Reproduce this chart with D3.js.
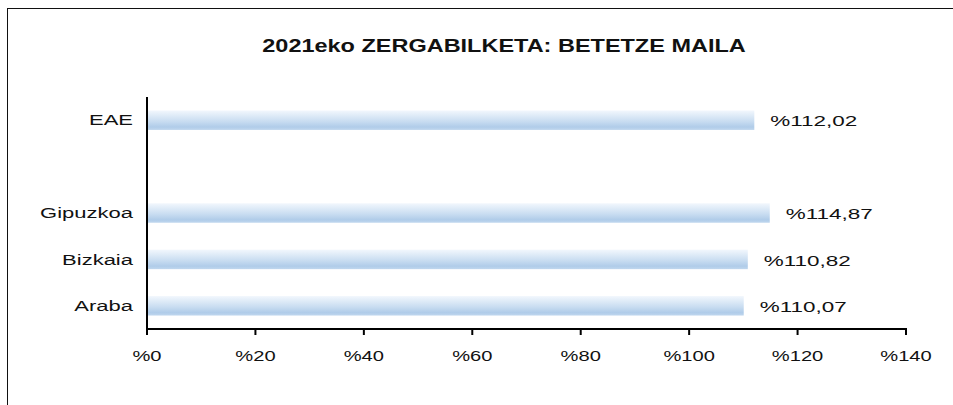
<!DOCTYPE html>
<html>
<head>
<meta charset="utf-8">
<script src="https://cdn.jsdelivr.net/npm/d3@7"></script>
<style>
  body { margin: 0; background: #fff; }
  text { font-family: "Liberation Sans", Arial, sans-serif; fill: #111; }
</style>
</head>
<body>
<div id="container"></div>
<script>
/* global d3*/

const width = 953;
const height = 405;

// categories top to bottom, "" is the empty gap row
const categories = ["EAE", "", "Gipuzkoa", "Bizkaia", "Araba"];
const values = [112.02, null, 114.87, 110.82, 110.07];
const valueLabels = ["%112,02", "", "%114,87", "%110,82", "%110,07"];
const ticks = [0, 20, 40, 60, 80, 100, 120, 140];
const title = "2021eko ZERGABILKETA:  BETETZE MAILA";

const margin = { left: 147, right: 47, top: 97, bottom: 76 };

const svg = d3
  .select("#container")
  .append("svg")
  .attr("width", width)
  .attr("height", height);

// outer frame (runs past right and bottom edge)
svg
  .append("rect")
  .attr("x", 7.5)
  .attr("y", 8.5)
  .attr("width", width + 10)
  .attr("height", height + 10)
  .attr("fill", "none")
  .attr("stroke", "#111")
  .attr("stroke-width", 1);

const defs = svg.append("defs");
const grad = defs
  .append("linearGradient")
  .attr("id", "barGrad")
  .attr("x1", 0)
  .attr("y1", 0)
  .attr("x2", 0)
  .attr("y2", 1);
grad.append("stop").attr("offset", "0%").attr("stop-color", "#f2f7fd");
grad.append("stop").attr("offset", "55%").attr("stop-color", "#c9ddf1");
grad.append("stop").attr("offset", "85%").attr("stop-color", "#b0cce9");
grad.append("stop").attr("offset", "100%").attr("stop-color", "#c0d7ee");

const xScale = d3.scaleLinear([0, 140], [margin.left, 906]);
const yScale = d3
  .scaleBand()
  .domain(d3.range(categories.length))
  .range([margin.top, height - margin.bottom])
  .paddingInner(0.58)
  .paddingOuter(0.29);

// helper: text in the picture is stretched sideways
const stretchText = (g, x, y, str, anchor, sx) => {
  g.append("text")
    .attr("transform", `translate(${x},${y}) scale(${sx},1)`)
    .attr("text-anchor", anchor)
    .attr("dominant-baseline", "central")
    .text(str);
};

// title
const tg = svg
  .append("g")
  .style("font-size", "18.5px")
  .style("font-weight", "bold");
stretchText(tg, 504, 45, title, "middle", 1.27);

// bars
svg
  .selectAll("rect.bar")
  .data(values.map((v, i) => ({ v, i })).filter((d) => d.v !== null))
  .enter()
  .append("rect")
  .attr("class", "bar")
  .attr("x", xScale(0))
  .attr("y", (d) => yScale(d.i))
  .attr("width", (d) => xScale(d.v) - xScale(0))
  .attr("height", yScale.bandwidth())
  .attr("fill", "url(#barGrad)");

// category labels
const cg = svg.append("g").style("font-size", "15.5px");
categories.forEach((c, i) => {
  if (!c) return;
  stretchText(cg, 133, yScale(i) + yScale.bandwidth() / 2, c, "end", 1.42);
});

// value labels
const vg = svg.append("g").style("font-size", "15.5px");
values.forEach((v, i) => {
  if (v === null) return;
  stretchText(vg, xScale(v) + 16, yScale(i) + yScale.bandwidth() / 2 + 1, valueLabels[i], "start", 1.45);
});

// y axis line
svg
  .append("line")
  .attr("x1", margin.left)
  .attr("x2", margin.left)
  .attr("y1", margin.top)
  .attr("y2", height - margin.bottom)
  .attr("stroke", "#000")
  .attr("stroke-width", 2);

// x axis
const axisY = height - margin.bottom;
svg
  .append("line")
  .attr("x1", xScale(0) - 1)
  .attr("x2", xScale(140) + 1)
  .attr("y1", axisY)
  .attr("y2", axisY)
  .attr("stroke", "#000")
  .attr("stroke-width", 2);

svg
  .selectAll("line.tick")
  .data(ticks)
  .enter()
  .append("line")
  .attr("class", "tick")
  .attr("x1", (d) => xScale(d))
  .attr("x2", (d) => xScale(d))
  .attr("y1", axisY)
  .attr("y2", axisY + 6)
  .attr("stroke", "#000")
  .attr("stroke-width", 2);

const xg = svg.append("g").style("font-size", "15.5px");
ticks.forEach((t) => {
  stretchText(xg, xScale(t), 356, "%" + t, "middle", 1.3);
});
</script>
</body>
</html>
